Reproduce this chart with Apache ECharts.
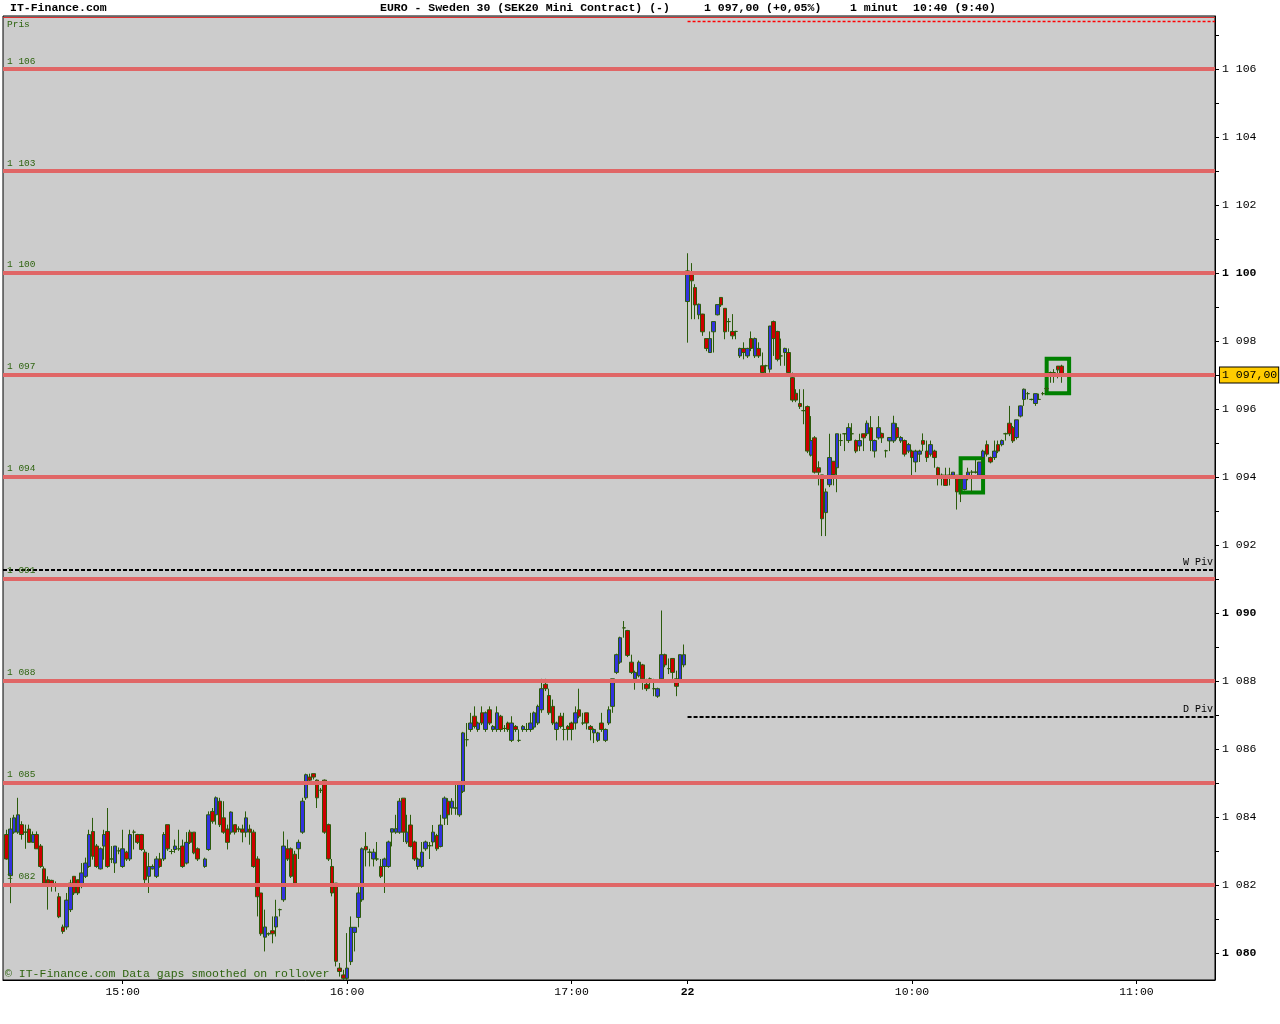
<!DOCTYPE html>
<html>
<head>
<meta charset="utf-8">
<script src="https://cdn.jsdelivr.net/npm/echarts@6/dist/echarts.min.js"></script>
<style>
html,body{margin:0;padding:0;background:#fff;}
#chart{width:1280px;height:1024px;}
</style>
</head>
<body>
<div id="chart"></div>
<script>
// ---------- DATA ----------
// Session 1 (21st): one candle per minute from 14:28 to 17:30, rows are [open, close, low, high]
const day1Start = '14:28';
const day1Ohlc = [
  null,
  [1083.48,1082.76,1082.74,1083.62],[1082.27,1083.64,1081.46,1083.97],[1083.55,1083.97,1083.50,1084.06],[1083.55,1084.06,1083.50,1084.56],
  [1083.77,1083.48,1083.33,1083.87],[1083.55,1083.55,1083.06,1083.77],[1083.64,1083.25,1083.25,1083.77],[1083.25,1083.48,1083.25,1083.57],
  [1083.48,1083.06,1083.06,1083.57],[1083.14,1082.54,1082.50,1083.20],[1082.47,1082.05,1082.00,1082.54],[1082.15,1082.05,1081.27,1082.25],
  [1082.13,1082.03,1081.80,1082.15],[1082.03,1082.03,1081.80,1082.10],[1081.65,1081.06,1081.02,1081.76],[1080.76,1080.63,1080.56,1080.83],
  [1080.76,1081.55,1080.68,1081.76],[1081.27,1082.05,1081.20,1082.15],[1082.25,1081.76,1081.70,1082.25],[1082.15,1081.76,1081.70,1082.15],
  [1081.95,1082.35,1081.90,1082.64],[1082.25,1082.64,1082.20,1082.80],[1082.54,1083.48,1082.50,1083.62],[1083.57,1082.84,1082.74,1083.97],
  [1083.14,1082.54,1082.50,1083.20],[1082.47,1083.06,1082.45,1083.10],[1083.14,1083.48,1082.74,1083.62],[1083.57,1082.54,1082.50,1084.26],
  [1082.76,1082.76,1082.64,1083.14],[1082.64,1083.14,1082.35,1083.14],[1083.00,1083.00,1082.90,1083.10],[1082.54,1083.06,1082.50,1083.62],
  [1082.96,1082.76,1082.70,1083.00],[1082.76,1083.48,1082.70,1083.62],[1083.55,1083.55,1083.04,1083.62],[1083.48,1083.25,1083.20,1083.50],
  [1083.48,1083.04,1083.00,1083.50],[1082.96,1082.15,1082.05,1083.04],[1082.25,1082.54,1081.76,1082.94],[1082.47,1082.54,1082.45,1082.60],
  [1082.25,1082.76,1082.20,1082.84],[1082.76,1082.54,1082.50,1082.94],[1082.76,1083.48,1082.70,1083.55],[1083.77,1083.06,1083.00,1083.77],
  [1082.98,1082.98,1082.90,1083.05],[1083.04,1083.14,1082.94,1083.33],[1083.06,1083.06,1083.00,1083.62],[1083.14,1082.54,1082.50,1083.33],
  [1082.64,1083.25,1082.60,1083.55],[1083.55,1083.25,1083.20,1083.62],[1083.55,1082.94,1082.90,1083.55],[1083.06,1082.76,1082.70,1083.10],
  null,
  [1082.54,1082.76,1082.50,1082.80],[1083.04,1084.06,1083.00,1084.16],[1084.16,1083.87,1083.80,1084.26],[1084.06,1084.56,1083.77,1084.60],
  [1084.46,1083.77,1083.70,1084.56],[1083.97,1083.55,1083.50,1084.46],[1083.64,1083.25,1083.04,1083.77],[1083.55,1084.14,1083.48,1084.16],
  [1083.77,1083.55,1083.48,1083.77],[1083.64,1083.64,1083.55,1083.72],[1083.64,1083.55,1083.25,1083.77],[1083.55,1083.97,1083.40,1084.16],
  [1083.64,1083.55,1083.18,1083.77],[1083.55,1082.54,1082.50,1083.62],[1082.76,1081.65,1081.07,1082.84],[1081.76,1080.56,1080.50,1081.76],
  [1080.46,1080.76,1080.04,1081.27],[1080.56,1080.56,1080.50,1080.60],[1080.65,1080.56,1080.28,1081.07],[1080.76,1081.06,1080.48,1081.56],
  [1081.27,1081.27,1081.07,1081.30],[1081.56,1083.14,1081.50,1083.57],[1083.06,1082.76,1082.70,1083.33],[1083.06,1082.25,1082.20,1083.10],
  [1082.90,1082.05,1082.00,1083.00],[1083.06,1083.25,1082.76,1083.33],[1083.55,1084.46,1083.50,1084.56],[1084.56,1085.24,1084.50,1085.27],
  [1085.17,1085.08,1085.00,1085.27],[1085.27,1085.17,1085.10,1085.27],[1085.08,1084.56,1084.26,1085.10],[1084.78,1084.78,1084.70,1084.85],
  [1085.08,1083.55,1083.50,1085.10],[1083.77,1082.76,1082.70,1083.80],[1082.54,1081.76,1081.66,1082.76],[1082.05,1079.75,1079.60,1082.05],
  [1079.55,1079.45,1079.30,1079.70],[1079.35,1079.25,1079.20,1079.50],[1079.25,1079.55,1079.20,1080.58],[1079.74,1080.75,1079.64,1081.07],
  [1080.60,1080.75,1080.04,1080.76],[1081.04,1081.76,1080.75,1082.05],[1081.56,1083.06,1081.50,1083.10],[1083.13,1083.03,1082.54,1083.55],
  [1082.96,1082.96,1082.54,1083.06],[1082.76,1082.96,1082.54,1083.06],[1082.76,1082.76,1082.70,1083.26],[1082.54,1082.25,1082.20,1082.76],
  [1082.54,1082.76,1081.76,1082.80],[1082.54,1083.26,1082.50,1083.30],[1083.55,1083.65,1083.13,1083.65],[1083.55,1083.65,1083.50,1084.06],
  [1083.55,1084.46,1083.50,1084.55],[1084.55,1083.55,1083.26,1084.55],[1083.26,1083.55,1083.20,1084.06],[1083.76,1083.13,1083.10,1084.06],
  [1083.26,1082.76,1082.70,1083.30],[1082.54,1082.76,1082.45,1082.80],[1082.54,1082.96,1082.50,1083.26],[1083.06,1083.26,1083.00,1083.30],
  [1083.15,1083.15,1082.76,1083.26],[1083.26,1083.55,1083.13,1083.76],[1083.45,1083.06,1083.00,1083.50],[1083.13,1083.76,1083.10,1084.06],
  [1083.96,1084.55,1083.76,1084.60],[1084.46,1084.06,1083.76,1084.55],[1084.26,1084.46,1084.06,1084.55],[1084.26,1084.26,1084.06,1085.04],
  [1084.06,1085.04,1084.00,1085.04],[1084.75,1086.47,1084.70,1086.50],[1086.27,1086.27,1086.07,1086.76],[1086.57,1086.76,1086.50,1087.06],
  [1086.96,1086.66,1086.60,1087.25],[1086.57,1086.76,1086.50,1086.80],[1087.06,1086.76,1086.70,1087.25],[1086.57,1087.06,1086.50,1087.10],
  [1087.15,1086.76,1086.70,1087.25],[1086.57,1086.66,1086.50,1086.70],[1086.57,1087.06,1086.50,1087.25],[1086.96,1086.57,1086.50,1087.00],
  [1086.60,1086.60,1086.50,1086.70],[1086.76,1086.57,1086.50,1086.80],[1086.25,1086.76,1086.20,1086.96],[1086.66,1086.57,1086.50,1086.70],
  [1086.25,1086.25,1086.20,1086.57],[1086.57,1086.66,1086.50,1086.70],[1086.57,1086.57,1086.50,1086.76],[1086.57,1086.76,1086.50,1087.06],
  [1086.64,1087.06,1086.57,1087.10],[1086.76,1087.25,1086.70,1087.30],[1087.15,1087.77,1087.06,1088.06],[1087.90,1087.77,1087.70,1088.06],
  [1087.57,1087.06,1087.00,1087.77],[1087.25,1086.76,1086.70,1087.45],[1086.57,1086.76,1086.25,1086.80],[1086.96,1086.66,1086.60,1087.06],
  [1086.57,1086.57,1086.25,1087.06],[1086.66,1086.57,1086.25,1086.70],[1086.76,1086.57,1086.25,1086.80],[1086.76,1087.06,1086.57,1087.25],
  [1087.15,1086.96,1086.90,1087.77],[1086.76,1086.76,1086.70,1087.06],[1087.06,1086.76,1086.57,1087.06],[1086.66,1086.57,1086.25,1086.70],
  [1086.47,1086.57,1086.17,1086.60],[1086.25,1086.47,1086.20,1086.50],[1086.76,1086.57,1086.50,1087.06],[1086.25,1086.57,1086.20,1086.60],
  [1086.76,1087.15,1086.70,1087.25],[1087.25,1088.06,1087.06,1088.06],[1088.25,1088.77,1088.20,1088.80],[1088.55,1089.27,1088.50,1089.30],
  [1089.56,1089.56,1089.27,1089.76],[1089.48,1088.75,1088.70,1089.50],[1088.55,1088.25,1088.20,1088.77],[1088.06,1088.25,1087.74,1088.30],
  [1088.15,1088.55,1088.10,1088.60],[1088.47,1088.06,1087.74,1088.50],[1087.90,1087.77,1087.70,1088.06],[1088.06,1088.06,1087.77,1088.10],
  [1087.77,1087.77,1087.55,1088.06],[1087.55,1087.77,1087.50,1087.80],[1088.06,1088.77,1088.00,1090.07],[1088.77,1088.47,1088.40,1088.80],
  [1088.36,1088.36,1088.20,1088.66],[1088.66,1088.25,1088.06,1088.66],[1088.06,1087.84,1087.55,1088.30],[1088.04,1088.77,1088.00,1088.77],
  [1088.47,1088.77,1088.40,1089.07]
];
// Session 2 (22nd): one candle per minute from 09:00 to 10:40, rows are [open, close, low, high]
const day2Start = '09:00';
const day2Slots = 142; // axis runs on to 11:21
const day2Ohlc = [
  [1099.16,1100.06,1097.95,1100.58],[1099.96,1099.77,1098.64,1100.29],[1099.57,1099.06,1098.64,1099.67],[1098.77,1099.08,1098.64,1099.10],
  [1098.79,1098.27,1098.15,1098.80],[1098.07,1097.78,1097.70,1098.07],[1097.66,1098.07,1097.66,1098.28],[1098.27,1098.57,1097.66,1098.57],
  [1098.77,1099.07,1098.75,1099.07],[1099.28,1099.06,1099.00,1099.28],[1098.96,1098.27,1098.05,1098.96],[1098.57,1098.57,1098.27,1098.67],
  [1098.28,1098.15,1098.05,1098.79],[1098.28,1098.28,1098.05,1098.30],[1097.56,1097.78,1097.50,1097.80],[1097.78,1097.66,1097.46,1097.96],
  [1097.56,1097.78,1097.50,1097.80],[1098.07,1097.78,1097.70,1098.28],[1097.56,1098.07,1097.50,1098.10],[1097.78,1097.56,1097.50,1097.96],
  [1097.27,1097.07,1097.00,1097.66],[1097.27,1097.27,1097.05,1097.30],[1097.17,1098.44,1097.07,1098.44],[1098.57,1098.07,1097.56,1098.60],
  [1098.28,1097.46,1097.40,1098.30],[1097.56,1097.56,1097.27,1098.07],[1097.66,1097.78,1097.27,1097.80],[1097.66,1097.07,1097.00,1097.78],
  [1096.92,1096.26,1096.20,1097.07],[1096.46,1096.26,1096.20,1096.58],[1096.16,1096.07,1096.00,1096.58],[1095.95,1095.95,1095.55,1096.58],
  [1096.07,1094.76,1094.70,1096.10],[1094.64,1095.07,1094.60,1095.79],[1095.15,1094.14,1094.10,1095.20],[1094.27,1094.14,1093.75,1094.46],
  [1094.06,1092.77,1092.26,1094.06],[1092.95,1093.56,1092.26,1093.66],[1093.77,1094.57,1093.70,1095.27],[1094.46,1094.07,1093.75,1094.46],
  [1094.27,1095.27,1093.55,1095.27],[1095.07,1095.07,1094.91,1095.27],[1095.27,1095.27,1094.76,1095.27],[1095.07,1095.45,1095.00,1095.58],
  [1095.27,1095.27,1095.07,1095.58],[1095.07,1094.76,1094.70,1095.10],[1094.91,1095.07,1094.76,1095.27],[1095.27,1095.15,1094.76,1095.27],
  [1095.27,1095.58,1095.20,1095.66],[1095.45,1095.07,1094.76,1095.79],[1094.76,1095.07,1094.57,1095.10],[1095.15,1095.45,1095.10,1095.79],
  [1095.28,1095.15,1095.00,1095.30],[1094.77,1094.77,1094.57,1094.80],[1095.06,1095.16,1094.76,1095.16],[1095.06,1095.58,1095.00,1095.80],
  [1095.45,1095.16,1095.10,1095.58],[1095.06,1095.16,1095.00,1095.20],[1095.07,1094.67,1094.60,1095.10],[1094.76,1094.95,1094.70,1095.00],
  [1094.76,1094.57,1094.05,1094.80],[1094.44,1094.76,1094.14,1094.80],[1094.67,1094.76,1094.44,1094.80],[1095.07,1094.96,1094.76,1095.28],
  [1094.76,1094.57,1094.44,1095.07],[1094.67,1094.95,1094.60,1095.07],[1094.76,1094.57,1094.27,1094.80],[1094.27,1094.05,1093.75,1094.30],
  [1094.05,1094.05,1093.75,1094.10],[1094.05,1093.75,1093.75,1094.27],[1094.05,1094.05,1093.75,1094.27],[1094.05,1094.14,1094.00,1094.14],
  [1094.05,1093.56,1093.04,1094.05],[1093.95,1093.95,1093.26,1094.00],[1093.63,1093.95,1093.60,1094.00],[1093.95,1094.14,1093.90,1094.27],
  [1094.14,1094.14,1093.56,1094.20],[1094.14,1094.14,1094.10,1094.50],[1094.05,1094.44,1094.00,1094.44],[1094.57,1094.76,1094.50,1094.80],
  [1094.95,1094.67,1094.60,1095.07],[1094.57,1094.44,1094.40,1094.60],[1094.57,1094.76,1094.50,1095.07],[1094.95,1094.76,1094.70,1095.07],
  [1094.95,1095.07,1094.90,1095.10],[1095.27,1095.27,1095.07,1095.30],[1095.58,1095.27,1095.20,1096.09],[1095.45,1095.06,1095.00,1095.50],
  [1095.16,1095.68,1095.10,1095.68],[1095.79,1096.09,1095.75,1096.10],[1096.28,1096.58,1096.09,1096.60],[1096.45,1096.45,1096.28,1096.50],
  [1096.28,1096.28,1096.25,1096.30],[1096.16,1096.45,1096.09,1096.45],[1096.28,1096.28,1096.28,1096.45],[1096.45,1096.45,1096.40,1096.50],
  [1096.60,1096.60,1096.50,1096.65],[1097.07,1097.07,1096.77,1097.10],[1097.07,1097.07,1096.77,1097.17],[1097.26,1097.15,1096.90,1097.26],
  [1097.26,1097.00,1096.77,1097.30]
];
// Horizontal price levels drawn in red
const levelValues = [1082, 1085, 1088, 1091, 1094, 1097, 1100, 1103, 1106];
const weeklyPivot = 1091.28;
const dailyPivot = 1086.95;
const topDashedLevel = 1107.40;
const lastPrice = 1097.00;
// Highlight boxes: [fromTime, toTime, lowValue, highValue]
const boxes = [['10:13','10:19',1093.54,1094.55],['10:36','10:42',1096.46,1097.48]];
// X tick labels
const xTickLabels = {'15:00':'15:00','16:00':'16:00','17:00':'17:00','09:00':'22','10:00':'10:00','11:00':'11:00'};
// Y axis
const yMin = 1079.2, yMax = 1107.56;
const yTickValues = [1080,1081,1082,1083,1084,1085,1086,1087,1088,1089,1090,1091,1092,1093,1094,1095,1096,1097,1098,1099,1100,1101,1102,1103,1104,1105,1106,1107];
const yLabelValues = [1080,1082,1084,1086,1088,1090,1092,1094,1096,1098,1100,1102,1104,1106];

// ---------- BUILD ----------
function buildTimes(start, n){
  const [h,m] = start.split(':').map(Number);
  const out = [];
  for (let i=0;i<n;i++){
    const t = h*60+m+i;
    out.push(String(Math.floor(t/60)).padStart(2,'0')+':'+String(t%60).padStart(2,'0'));
  }
  return out;
}
const categories = buildTimes(day1Start, day1Ohlc.length).concat(buildTimes(day2Start, day2Slots));
const seriesData = day1Ohlc.concat(day2Ohlc);
while (seriesData.length < categories.length) seriesData.push(null);
const candleData = seriesData.map(r => r ? r : '-');
const lastCat = categories[categories.length-1];

function fmtPrice(v){ v=Math.round(v); return '1 ' + String(v-1000).padStart(3,'0'); }

const MONO = '"Liberation Mono","DejaVu Sans Mono",monospace';
const GREEN_TXT = '#2f6410';
const RED_LINE = '#e06666';

const markLineData = levelValues.map(v => ({
  yAxis: v,
  lineStyle: {color: RED_LINE, width: 4, type: 'solid'},
  label: {show: true, position: 'insideStartTop', formatter: fmtPrice(v), color: GREEN_TXT,
          fontFamily: MONO, fontSize: 9.5, distance: [4, 3]}
}));
markLineData.push({
  yAxis: lastPrice,
  lineStyle: {color: RED_LINE, width: 4, type: 'solid'},
  label: {show: true, position: 'end', formatter: '1 097,00', color: '#000', fontFamily: MONO, fontSize: 11.5,
          backgroundColor: '#ffcc00', borderColor: '#000', borderWidth: 1, padding: [2, 1, 1, 2], distance: 5}
});
markLineData.push({
  yAxis: weeklyPivot,
  lineStyle: {color: '#000', width: 2, type: [4, 2]},
  label: {show: true, position: 'insideEndTop', formatter: 'W Piv', color: '#000', fontFamily: MONO, fontSize: 10, distance: [2, 2]}
});
markLineData.push([
  {coord: [day2Start, dailyPivot], lineStyle: {color: '#000', width: 2, type: [4, 2]},
   label: {show: true, position: 'insideEndTop', formatter: 'D Piv', color: '#000', fontFamily: MONO, fontSize: 10, distance: [2, 2]}},
  {coord: [lastCat, dailyPivot]}
]);
markLineData.push([
  {coord: [day2Start, topDashedLevel], label: {show: false}},
  {coord: [lastCat, topDashedLevel]}
]);
markLineData.push({
  yAxis: yMax - 0.03,
  lineStyle: {color: '#e03030', width: 1, type: 'solid'},
  label: {show: false}
});

const chart = echarts.init(document.getElementById('chart'), null, {renderer: 'canvas'});
chart.setOption({
  animation: false,
  backgroundColor: '#ffffff',
  grid: {left: 3, top: 16, width: 1212, height: 964, show: true, backgroundColor: '#cccccc',
         borderColor: '#000', borderWidth: 1},
  xAxis: {
    type: 'category', data: categories, boundaryGap: false,
    axisLine: {lineStyle: {color: '#000', width: 1}},
    axisTick: {interval: (i, v) => v in xTickLabels, length: 4, lineStyle: {color: '#000'}},
    axisLabel: {interval: (i, v) => v in xTickLabels, margin: 6, color: '#000', fontFamily: MONO, fontSize: 11.5,
      formatter: v => v === '09:00' ? '{b|22}' : (xTickLabels[v] || ''),
      rich: {b: {fontWeight: 'bold', fontFamily: MONO, fontSize: 11.5, color: '#000'}}},
    splitLine: {show: false}
  },
  yAxis: {
    type: 'value', position: 'right', min: yMin, max: yMax, scale: true,
    axisLine: {show: true, lineStyle: {color: '#000', width: 1}},
    axisTick: {show: true, customValues: yTickValues, length: 4, lineStyle: {color: '#000'}},
    axisLabel: {customValues: yLabelValues, margin: 7, color: '#000', fontFamily: MONO, fontSize: 11.5,
      formatter: v => { const t = fmtPrice(v); return Math.round(v) % 10 === 0 ? '{b|' + t + '}' : t; },
      rich: {b: {fontWeight: 'bold', fontFamily: MONO, fontSize: 11.5, color: '#000'}}},
    splitLine: {show: false}
  },
  series: [{
    type: 'candlestick',
    data: candleData,
    barWidth: 4,
    itemStyle: {color: '#3333dd', color0: '#cc0000', borderColor: '#2b5b0b', borderColor0: '#2b5b0b',
                borderColorDoji: '#2b5b0b', borderWidth: 1},
    markLine: {symbol: ['none', 'none'], silent: true, animation: false,
      lineStyle: {color: '#ff0000', width: 1.3, type: [3, 2], opacity: 1},
      data: markLineData},
    markArea: {silent: true, itemStyle: {color: 'rgba(0,0,0,0)', borderColor: '#008000', borderWidth: 4},
      data: boxes.map(b => [{coord: [b[0], b[3]]}, {coord: [b[1], b[2]]}])}
  }],
  graphic: [
    {type: 'text', left: 10, top: 2, style: {text: 'IT-Finance.com', font: 'bold 11.5px ' + MONO, fill: '#000'}},
    {type: 'text', left: 380, top: 2, style: {text: 'EURO - Sweden 30 (SEK20 Mini Contract) (-)', font: 'bold 11.5px ' + MONO, fill: '#000'}},
    {type: 'text', left: 704, top: 2, style: {text: '1 097,00 (+0,05%)', font: 'bold 11.5px ' + MONO, fill: '#000'}},
    {type: 'text', left: 850, top: 2, style: {text: '1 minut', font: 'bold 11.5px ' + MONO, fill: '#000'}},
    {type: 'text', left: 913, top: 2, style: {text: '10:40 (9:40)', font: 'bold 11.5px ' + MONO, fill: '#000'}},
    {type: 'text', left: 7, top: 19, z: 10, style: {text: 'Pris', font: '9.5px ' + MONO, fill: GREEN_TXT}},
    {type: 'text', left: 5, top: 968, z: 10, style: {text: '\u00a9 IT-Finance.com Data gaps smoothed on rollover', font: '11.5px ' + MONO, fill: GREEN_TXT}}
  ]
});
</script>
</body>
</html>
